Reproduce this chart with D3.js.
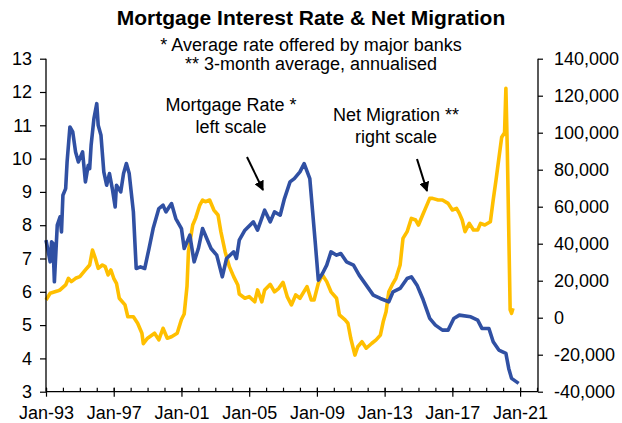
<!DOCTYPE html>
<html>
<head>
<meta charset="utf-8">
<script src="https://cdn.jsdelivr.net/npm/d3@7"></script>
<style>
  body { margin: 0; background: #fff; }
  text { font-family: "Liberation Sans", Arial, sans-serif; fill: #000; }
</style>
</head>
<body>
<div id="chart"></div>
<script>
// mortgage rate (%), left scale
var rateMonths = ["1993-01","1993-04","1993-05","1993-06","1993-07","1993-09","1993-11","1993-12","1994-01","1994-03",
  "1994-04","1994-06","1994-08","1994-10","1994-12","1995-03","1995-05","1995-07","1995-08","1995-09",
  "1995-11","1996-01","1996-02","1996-04","1996-06","1996-08","1996-10","1996-12","1997-02","1997-03",
  "1997-06","1997-08","1997-10","1997-12","1998-03","1998-05","1998-08","1998-11","1999-02","1999-05",
  "1999-09","1999-12","2000-02","2000-06","2000-09","2001-01","2001-03","2001-07","2001-10","2002-01",
  "2002-04","2002-07","2002-10","2003-02","2003-06","2003-09","2004-02","2004-04","2004-06","2004-10",
  "2005-04","2005-07","2005-12","2006-04","2006-07","2006-11","2007-02","2007-06","2007-09","2008-01",
  "2008-04","2008-08","2008-10","2008-12","2009-02","2009-05","2009-08","2009-11","2010-03","2010-06",
  "2010-10","2011-03","2011-07","2011-12","2012-05","2012-10","2013-04","2013-07","2013-12","2014-05",
  "2014-08","2014-12","2015-04","2015-09","2016-01","2016-06","2016-10","2017-02","2017-06","2018-02",
  "2018-07","2018-10","2019-03","2019-06","2019-10","2020-03","2020-05","2020-07","2020-12"];
var rateValues = [7.55,6.9,7.5,7.45,6.3,8.0,8.25,7.8,8.9,9.1,
  9.9,10.95,10.8,10.2,9.9,10.2,9.3,9.8,9.7,10.4,
  11.2,11.65,11.0,10.7,9.6,9.2,9.55,9.1,8.55,9.2,
  9.0,9.55,9.85,9.55,8.4,6.7,6.75,6.7,7.3,7.9,
  8.5,8.6,8.4,8.65,8.2,7.9,7.3,7.7,6.9,7.3,
  7.9,7.6,7.3,7.1,6.45,7.0,7.2,7.0,7.55,7.85,
  8.1,7.85,8.45,8.1,8.4,8.3,8.8,9.3,9.4,9.6,
  9.85,9.4,8.4,7.4,6.35,6.55,6.8,7.2,7.1,7.15,
  6.9,6.8,6.5,6.2,5.9,5.8,5.7,6.0,6.1,6.4,
  6.45,6.2,5.8,5.2,5.0,4.85,4.85,5.2,5.3,5.25,
  5.15,4.9,4.9,4.5,4.25,4.15,3.7,3.4,3.25];

// net migration, 3-month average annualised, right scale
var migMonths = ["1993-01","1993-04","1993-09","1993-11","1994-03","1994-05","1994-07","1994-10","1995-01","1995-05",
  "1995-08","1995-10","1995-12","1996-02","1996-05","1996-07","1996-09","1996-11","1997-01","1997-03",
  "1997-05","1997-09","1997-11","1998-03","1998-06","1998-09","1998-10","1999-01","1999-06","1999-09",
  "1999-12","2000-03","2000-06","2000-10","2001-01","2001-03","2001-05","2001-06","2001-09","2001-11",
  "2002-02","2002-04","2002-06","2002-09","2002-12","2003-03","2003-05","2003-08","2003-11","2004-02",
  "2004-05","2004-06","2004-10","2005-01","2005-05","2005-07","2005-10","2005-12","2006-04","2006-07",
  "2006-10","2007-01","2007-04","2007-07","2007-10","2008-01","2008-06","2008-09","2008-11","2009-02",
  "2009-05","2009-08","2009-11","2010-03","2010-05","2010-09","2010-11","2011-01","2011-04","2011-06",
  "2011-09","2011-12","2012-04","2012-07","2012-10","2012-12","2013-02","2013-04","2013-07","2013-09",
  "2013-12","2014-02","2014-05","2014-08","2014-11","2015-01","2015-04","2015-06","2015-09","2015-11",
  "2016-03","2016-06","2016-10","2017-01","2017-04","2017-06","2017-08","2017-10","2018-01","2018-04",
  "2018-07","2018-09","2018-12","2019-04","2019-06","2019-08","2019-10","2019-12","2020-02","2020-03",
  "2020-04","2020-06","2020-07","2020-08"];
var migValues = [9600,13200,14400,15000,17700,21300,19500,21300,22200,25800,
  28500,36600,32100,26700,28500,27600,23100,25800,21300,18600,
  10500,6900,500,500,-3000,-8400,-14000,-11100,-8400,-12000,
  -5700,-11100,-10300,-8400,-1000,2000,17000,35700,50100,53700,
  60900,63600,62700,63600,58200,55500,46500,35700,27600,22200,
  17700,12800,10500,11400,8600,15000,8600,15000,18000,14000,
  15900,19100,11400,6900,12300,10500,16800,9600,9600,18600,
  23100,19500,14000,10500,1500,-1200,-3000,-11100,-20200,-15700,
  -13000,-16500,-13800,-12000,-9400,-2200,3200,14000,18600,21300,
  28500,42900,46500,53700,52800,50100,55500,59100,64500,64500,
  63600,63600,61800,58200,59100,56400,52800,46500,51000,47400,
  47400,51000,50100,51900,63600,74400,86000,97500,100000,124000,
  90000,4200,2400,5100];

var leftTicks = [3,4,5,6,7,8,9,10,11,12,13];
var rightTicks = [-40000,-20000,0,20000,40000,60000,80000,100000,120000,140000];
var majorTickYears = [1993,1997,2001,2005,2009,2013,2017,2021];

var W = 622, H = 423;
var plot = {left: 46, right: 538, top: 58.7, bottom: 391.7};

var parseMonth = d3.timeParse("%Y-%m");
var rateData = rateMonths.map(function (m, i) { return {date: parseMonth(m), value: rateValues[i]}; });
var migData = migMonths.map(function (m, i) { return {date: parseMonth(m), value: migValues[i]}; });

var svg = d3.select("#chart").append("svg")
    .attr("width", W)
    .attr("height", H);

var x = d3.scaleTime()
    .domain([new Date(1993, 0, 1), new Date(2022, 0, 1)])
    .range([plot.left, plot.right - 1]);
var yL = d3.scaleLinear().domain([3, 13]).range([plot.bottom, plot.top]);
var yR = d3.scaleLinear().domain([-40000, 140000]).range([plot.bottom, plot.top]);

// lines - migration first so the rate sits on top where they cross
svg.append("path")
    .datum(migData)
    .attr("fill", "none")
    .attr("stroke", "#FFBF00")
    .attr("stroke-width", 3.6)
    .attr("stroke-linejoin", "round")
    .attr("d", d3.line().x(function (d) { return x(d.date); }).y(function (d) { return yR(d.value); }));

svg.append("path")
    .datum(rateData)
    .attr("fill", "none")
    .attr("stroke", "#3050A3")
    .attr("stroke-width", 3.6)
    .attr("stroke-linejoin", "round")
    .attr("d", d3.line().x(function (d) { return x(d.date); }).y(function (d) { return yL(d.value); }));

// axes
var leftAxis = svg.append("g")
    .attr("transform", "translate(" + plot.left + ",0)")
    .call(d3.axisLeft(yL).tickValues(leftTicks).tickSize(6).tickPadding(8));

var rightAxis = svg.append("g")
    .attr("transform", "translate(" + plot.right + ",0)")
    .call(d3.axisRight(yR).tickValues(rightTicks).tickSize(5).tickPadding(11)
        .tickFormat(function (d) { return d3.format(",")(d).replace("\u2212", "-"); }));

var minorAxis = svg.append("g")
    .attr("transform", "translate(0," + plot.bottom + ")")
    .call(d3.axisTop(x).ticks(d3.timeYear.every(1)).tickSize(4).tickFormat(""));
minorAxis.select(".domain").remove();

var majorAxis = svg.append("g")
    .attr("transform", "translate(0," + plot.bottom + ")")
    .call(d3.axisBottom(x)
        .tickValues(majorTickYears.map(function (y) { return new Date(y, 0, 1); }))
        .tickSize(5).tickPadding(10)
        .tickFormat(d3.timeFormat("%b-%y")));
majorAxis.selectAll(".tick line").attr("y1", -4);

svg.selectAll(".domain").attr("stroke", "#000").attr("stroke-width", 1.3);
svg.selectAll(".tick line").attr("stroke", "#000").attr("stroke-width", 1.2);
svg.selectAll(".tick text").style("font-size", "18px").attr("fill", "#000");
// axis paths: no outer ticks
leftAxis.select(".domain").attr("d", "M0," + plot.top + "V" + plot.bottom);
rightAxis.select(".domain").attr("d", "M0," + plot.top + "V" + plot.bottom);
majorAxis.select(".domain").attr("d", "M" + plot.left + ",0H" + plot.right);

// titles
svg.append("text")
    .attr("x", 311).attr("y", 25)
    .attr("text-anchor", "middle")
    .style("font-size", "21px").style("font-weight", "bold")
    .text("Mortgage Interest Rate & Net Migration");
svg.append("text")
    .attr("x", 311).attr("y", 51)
    .attr("text-anchor", "middle")
    .style("font-size", "18px")
    .text("* Average rate offered by major banks");
svg.append("text")
    .attr("x", 311).attr("y", 70)
    .attr("text-anchor", "middle")
    .style("font-size", "18px")
    .text("** 3-month average, annualised");

// annotations
svg.append("defs").append("marker")
    .attr("id", "arrow")
    .attr("viewBox", "0 0 10 10")
    .attr("refX", 9).attr("refY", 5)
    .attr("markerWidth", 5).attr("markerHeight", 5)
    .attr("orient", "auto")
    .append("path")
    .attr("d", "M0,0L10,5L0,10z")
    .attr("fill", "#000");

function note(lines, cx, cy, x1, y1, x2, y2) {
    var t = svg.append("text")
        .attr("text-anchor", "middle")
        .style("font-size", "18px");
    lines.forEach(function (s, i) {
        t.append("tspan").attr("x", cx).attr("y", cy + i * 22).text(s);
    });
    svg.append("line")
        .attr("x1", x1).attr("y1", y1)
        .attr("x2", x2).attr("y2", y2)
        .attr("stroke", "#000")
        .attr("stroke-width", 2)
        .attr("marker-end", "url(#arrow)");
}
note(["Mortgage Rate *", "left scale"], 231, 111, 247, 157, 263, 190);
note(["Net Migration **", "right scale"], 396, 121, 417, 159, 427, 191);
</script>
</body>
</html>
